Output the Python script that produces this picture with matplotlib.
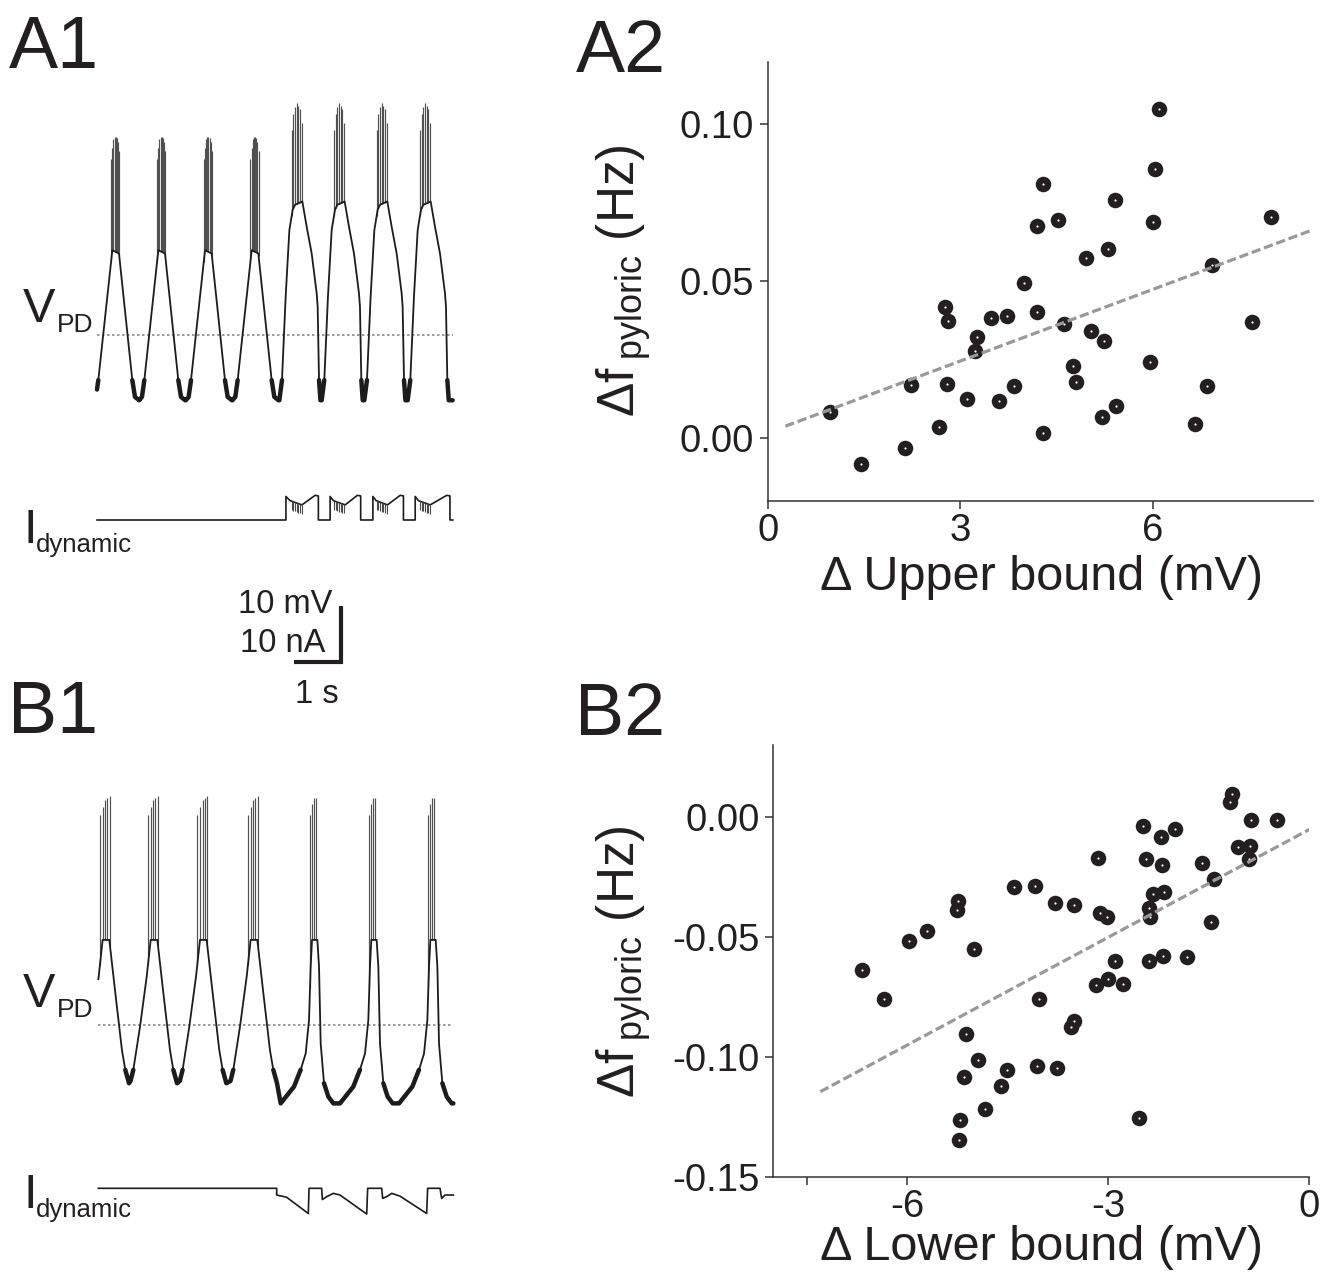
import numpy as np
import matplotlib
matplotlib.use('Agg')
import matplotlib.pyplot as plt
from matplotlib.ticker import FormatStrFormatter

plt.rcParams['font.family'] = ['Liberation Sans', 'DejaVu Sans']
plt.rcParams['mathtext.fontset'] = 'custom'
plt.rcParams['mathtext.rm'] = 'Liberation Sans'
plt.rcParams['mathtext.it'] = 'Liberation Sans'
plt.rcParams['axes.unicode_minus'] = False

W, H = 1334, 1276
INK = '#231f20'

# ---------------- data: A2 (upper bound) ----------------
ub_x = [6.10, 6.04, 4.29, 5.41, 4.53, 4.20, 6.01, 7.84, 5.30, 4.96, 6.93, 4.00,
        2.76, 2.80, 3.48, 3.72, 4.19, 4.61, 3.26, 3.23, 5.04, 5.24, 7.55, 5.96,
        4.75, 4.80, 2.23, 2.79, 3.84, 6.85, 3.10, 3.60, 0.96, 5.43, 5.21, 6.66,
        2.66, 4.29, 2.13, 1.45]
ub_y = [0.105, 0.0856, 0.0810, 0.0760, 0.0694, 0.0676, 0.0689, 0.0706, 0.0602,
        0.0573, 0.0552, 0.0493, 0.0418, 0.0373, 0.0381, 0.0389, 0.0402, 0.0362,
        0.0323, 0.0276, 0.0341, 0.0308, 0.0369, 0.0242, 0.0228, 0.0177, 0.0170,
        0.0172, 0.0165, 0.0166, 0.0125, 0.0118, 0.0082, 0.0103, 0.0068, 0.0046,
        0.0034, 0.0017, -0.0032, -0.0082]
ub_fit = (0.00761, 0.0017)      # slope, intercept
ub_fit_x = [0.27, 8.5]

# ---------------- data: B2 (lower bound) ----------------
lb_x = [-1.16, -1.19, -0.87, -0.49, -2.49, -2.00, -2.21, -1.06, -0.89, -0.90,
        -3.15, -2.44, -2.20, -1.61, -1.43, -4.41, -4.10, -2.34, -2.17, -5.25,
        -5.26, -3.79, -3.51, -2.39, -2.38, -3.12, -3.02, -1.47, -5.71, -5.98,
        -5.00, -2.90, -2.39, -2.19, -1.82, -6.68, -3.00, -3.19, -2.78, -6.35,
        -4.03, -3.52, -3.56, -5.13, -4.94, -5.15, -4.51, -4.07, -3.76, -4.60,
        -4.84, -5.22, -2.55, -5.23]
lb_y = [0.0094, 0.0063, -0.0013, -0.0013, -0.0040, -0.0051, -0.0085, -0.0125,
        -0.0121, -0.0176, -0.0171, -0.0176, -0.0200, -0.0194, -0.0260, -0.0294,
        -0.0290, -0.0324, -0.0313, -0.0353, -0.0388, -0.0358, -0.0368, -0.0381,
        -0.0419, -0.0401, -0.0418, -0.0438, -0.0476, -0.0518, -0.0550, -0.0603,
        -0.0603, -0.0581, -0.0586, -0.0640, -0.0675, -0.0701, -0.0697, -0.0760,
        -0.0760, -0.0850, -0.0878, -0.0904, -0.1015, -0.1086, -0.1054, -0.1038,
        -0.1047, -0.1121, -0.1218, -0.1263, -0.1257, -0.1347]
lb_fit = (0.01497, -0.0053)
lb_fit_x = [-7.3, 0.0]

# ---------------- data: A1 traces (s, mV / nA) ----------------
a1_peaks = [0.418, 1.397, 2.390, 3.383, 4.284, 5.184, 6.092, 7.014]
a1_n_ctl = 4
a1_span = (0.0, 7.567)
a1_ctl_dt = [-0.50, -0.44, -0.39, -0.092, 0.05, 0.333, 0.39, 0.48]
a1_ctl_v = [-61.6, -61.0, -58.0, -34.8, -35.4, -58.0, -61.0, -61.6]
a1_ctl_spk_dt = [-0.12, -0.095, -0.07, -0.045, -0.02, 0.005, 0.03, 0.055]
a1_ctl_spk_top = [-18.5, -16.5, -15.0, -14.5, -14.5, -14.8, -15.5, -17.0]
a1_dyn_dt = [-0.404, -0.348, -0.270, -0.191, -0.121, -0.071, 0.085, 0.177,
             0.284, 0.390, 0.411, 0.44, 0.47]
a1_dyn_v = [-61.6, -58.0, -43.1, -31.2, -27.6, -26.7, -26.1, -30.6, -35.4,
            -42.5, -44.9, -58.0, -61.6]
a1_dyn_spk_dt = [-0.142, -0.106, -0.071, -0.035, 0.0, 0.035, 0.071]
a1_dyn_spk_top = [-13.3, -10.5, -9.2, -8.6, -9.0, -9.5, -12.0]
a1_i_t = [0.0, 4.02, 4.02, 4.11, 4.36, 4.64, 4.71, 4.71, 4.96, 4.96, 5.03, 5.28,
          5.54, 5.61, 5.61, 5.87, 5.87, 5.94, 6.18, 6.45, 6.52, 6.52, 6.77, 6.77,
          6.84, 7.09, 7.44, 7.51, 7.51, 7.57]
a1_i = [0, 0, 4.2, 3.45, 2.7, 4.4, 4.3, 0, 0, 4.2, 3.45, 2.7, 4.4, 4.3, 0, 0,
        4.2, 3.45, 2.7, 4.4, 4.3, 0, 0, 4.2, 3.45, 2.7, 4.4, 4.3, 0, 0]

# ---------------- data: B1 traces ----------------
b1_peaks = [0.191, 1.213, 2.262, 3.340, 4.603, 5.865, 7.121]
b1_n_ctl = 4
b1_span = (0.028, 7.582)
b1_ctl_dt = [-0.50, -0.44, -0.298, -0.156, -0.071, 0.071, 0.199, 0.340, 0.411, 0.49]
b1_ctl_v = [-60.0, -58.0, -50.3, -41.4, -34.8, -34.8, -44.3, -54.5, -58.0, -60.4]
b1_ctl_spk_dt = [-0.128, -0.071, -0.014, 0.028, 0.085]
b1_ctl_spk_top = [-12.5, -11.0, -9.8, -9.5, -9.1]
b1_dyn_dt = [-0.695, -0.411, -0.270, -0.163, -0.092, -0.057, -0.028, 0.085,
             0.121, 0.156, 0.227, 0.319, 0.426, 0.55]
b1_dyn_v = [-64.0, -61.0, -58.0, -55.1, -49.1, -39.6, -34.8, -34.8, -39.6,
            -53.3, -60.4, -62.8, -64.0, -64.0]
b1_dyn_spk_dt = [-0.071, -0.028, 0.014, 0.057]
b1_dyn_spk_top = [-12.5, -10.5, -9.5, -9.5]
b1_i_t = [0.028, 3.823, 3.823, 4.035, 4.496, 4.511, 4.780, 4.794, 4.887, 5.028,
          5.170, 5.738, 5.759, 6.057, 6.078, 6.163, 6.270, 6.447, 7.014, 7.035,
          7.298, 7.333, 7.404, 7.582]
b1_i = [0, 0, -1.2, -1.6, -4.5, 0, 0, -2.0, -1.5, -0.9, -1.2, -4.6, 0, 0, -1.8,
        -1.5, -0.9, -1.4, -4.5, 0, 0, -1.8, -1.2, -1.2]

v_thresh = -50.0
sb_t = [4.2, 5.2, 5.2]      # 1 s
sb_v = [0.0, 0.0, 10.0]     # 10 mV / 10 nA

# ---------------- helpers ----------------
fig = plt.figure(figsize=(W / 100, H / 100), dpi=100)


def px_axes(l, t, r, b):
    return fig.add_axes([l / W, 1 - b / H, (r - l) / W, (b - t) / H])


def ftext(x, y, s, size, **kw):
    fig.text(x / W, 1 - y / H, s, fontsize=size, color=INK, **kw)


T0_PX, PX_S, PX_U = 97, 47.0, 5.6


def trace_axes(top, bot, ref_px, ref_val):
    ax = px_axes(90, top, 460, bot)
    ax.set_xlim((90 - T0_PX) / PX_S, (460 - T0_PX) / PX_S)
    ax.set_ylim(ref_val - (bot - ref_px) / PX_U, ref_val + (ref_px - top) / PX_U)
    ax.axis('off')
    return ax


def build(peaks, n_ctl, ctl, dyn, span):
    tt, vv = [], []
    for k, p in enumerate(peaks):
        dt, v = ctl if k < n_ctl else dyn
        tt.append(p + np.array(dt))
        vv.append(np.array(v))
    tt, vv = np.concatenate(tt), np.concatenate(vv)
    keep = (tt > span[0]) & (tt < span[1])
    ends = np.interp(span, tt, vv)
    return np.r_[span[0], tt[keep], span[1]], np.r_[ends[0], vv[keep], ends[1]]


def draw_trace(ax, peaks, n_ctl, ctl, dyn, ctl_spk, dyn_spk, span):
    t, v = build(peaks, n_ctl, ctl, dyn, span)
    ax.plot(t, v, color='#1c1c1c', lw=1.3, zorder=3)
    # noisy troughs look thicker in the recording
    ax.plot(t, np.where(v < -57.5, v, np.nan), color='#1c1c1c', lw=3.2,
            solid_capstyle='round', zorder=3)
    for k, p in enumerate(peaks):
        sdt, stop = ctl_spk if k < n_ctl else dyn_spk
        st = p + np.array(sdt)
        base = np.interp(st, t, v)
        ax.vlines(st, base, stop, color='#505050', lw=0.85, zorder=2)
    ax.plot(span, [v_thresh, v_thresh], color='#8a8a8a', lw=1.2,
            dashes=(1.5, 1.5), zorder=1)
    return t, v


# ---------------- A1 ----------------
axa1 = trace_axes(90, 420, 335.3, v_thresh)
draw_trace(axa1, a1_peaks, a1_n_ctl, (a1_ctl_dt, a1_ctl_v), (a1_dyn_dt, a1_dyn_v),
           (a1_ctl_spk_dt, a1_ctl_spk_top), (a1_dyn_spk_dt, a1_dyn_spk_top), a1_span)
axa1i = trace_axes(470, 560, 520, 0.0)
axa1i.plot(a1_i_t, a1_i, color='#1c1c1c', lw=1.2)
spk_t = np.concatenate([p + np.array(a1_dyn_spk_dt) for p in a1_peaks[a1_n_ctl:]])
lvl = np.interp(spk_t, a1_i_t, a1_i)
axa1i.vlines(spk_t, lvl - 1.6, lvl, color='#4a4a4a', lw=0.8)

# scale bar
axsb = trace_axes(590, 680, 662, 0.0)
axsb.plot(sb_t, sb_v, color=INK, lw=3, solid_joinstyle='miter', solid_capstyle='butt')
ftext(332, 613, '10 mV', 23.5, ha='right', va='baseline')
ftext(325, 652, '10 nA', 23.5, ha='right', va='baseline')
ftext(317, 703, '1 s', 23.5, ha='center', va='baseline')

# ---------------- B1 ----------------
axb1 = trace_axes(770, 1140, 1025, v_thresh)
draw_trace(axb1, b1_peaks, b1_n_ctl, (b1_ctl_dt, b1_ctl_v), (b1_dyn_dt, b1_dyn_v),
           (b1_ctl_spk_dt, b1_ctl_spk_top), (b1_dyn_spk_dt, b1_dyn_spk_top), b1_span)
axb1i = trace_axes(1150, 1240, 1188.3, 0.0)
axb1i.plot(b1_i_t, b1_i, color='#1c1c1c', lw=1.2)

# trace labels
for yv, yi in [(322, 543), (1007, 1208)]:
    ftext(23, yv, 'V', 35, ha='left', va='baseline')
    ftext(57, yv + 10, 'PD', 19, ha='left', va='baseline')
    ftext(23, yi, 'I', 35, ha='left', va='baseline')
    ftext(36, yi + 9, 'dynamic', 18.5, ha='left', va='baseline')


# ---------------- scatter panels ----------------
def style(ax):
    for s in ['top', 'right']:
        ax.spines[s].set_visible(False)
    for s in ['left', 'bottom']:
        ax.spines[s].set_linewidth(1.1)
        ax.spines[s].set_color('#333333')
    ax.tick_params(direction='out', length=6, width=1.1, color='#333333',
                   labelsize=27.5, labelcolor=INK)
    ax.tick_params(axis='x', pad=3)
    ax.tick_params(axis='y', pad=4)
    ax.yaxis.set_major_formatter(FormatStrFormatter('%.2f'))


def scatter(ax, x, y, fit, fit_x):
    ax.scatter(x, y, s=125, c=INK, linewidths=0, zorder=3, clip_on=False)
    ax.scatter(x, y, s=2.5, c='white', linewidths=0, zorder=4, clip_on=False)
    fx = np.array(fit_x)
    ax.plot(fx, fit[0] * fx + fit[1], color='#999999', lw=2.3,
            dashes=(2.9, 1.2), zorder=5)


axa2 = px_axes(768, 61.6, 1313, 500.7)
scatter(axa2, ub_x, ub_y, ub_fit, ub_fit_x)
axa2.set_xlim(0, 8.5)
axa2.set_ylim(-0.02, 0.12)
axa2.set_xticks([0, 3, 6])
axa2.set_yticks([0.0, 0.05, 0.10])
style(axa2)

axb2 = px_axes(773.4, 744.7, 1309.4, 1176.7)
scatter(axb2, lb_x, lb_y, lb_fit, lb_fit_x)
axb2.set_xlim(-8, 0)
axb2.set_ylim(-0.15, 0.03)
axb2.set_xticks([-7.5, -6, -3, 0])
axb2.set_xticklabels(['', '-6', '-3', '0'])
axb2.set_yticks([-0.15, -0.10, -0.05, 0.0])
style(axb2)
axb2.set_yticklabels(['-0.15', '-0.10', '-0.05', '0.00'])

ylab = 'Δf$_{\\;\\mathrm{pyloric}}$ (Hz)'
ftext(624, 281, ylab, 37, rotation=90, ha='center', va='center')
ftext(624, 962, ylab, 37, rotation=90, ha='center', va='center')
ftext(1041, 590, 'Δ Upper bound (mV)', 35, ha='center', va='baseline')
ftext(1041, 1260, 'Δ Lower bound (mV)', 35, ha='center', va='baseline')

# panel letters
ftext(9, 68, 'A1', 53, ha='left', va='baseline')
ftext(576, 72, 'A2', 53, ha='left', va='baseline')
ftext(8, 733, 'B1', 53, ha='left', va='baseline')
ftext(575, 735, 'B2', 53, ha='left', va='baseline')

fig.savefig('out.png', dpi=100)
